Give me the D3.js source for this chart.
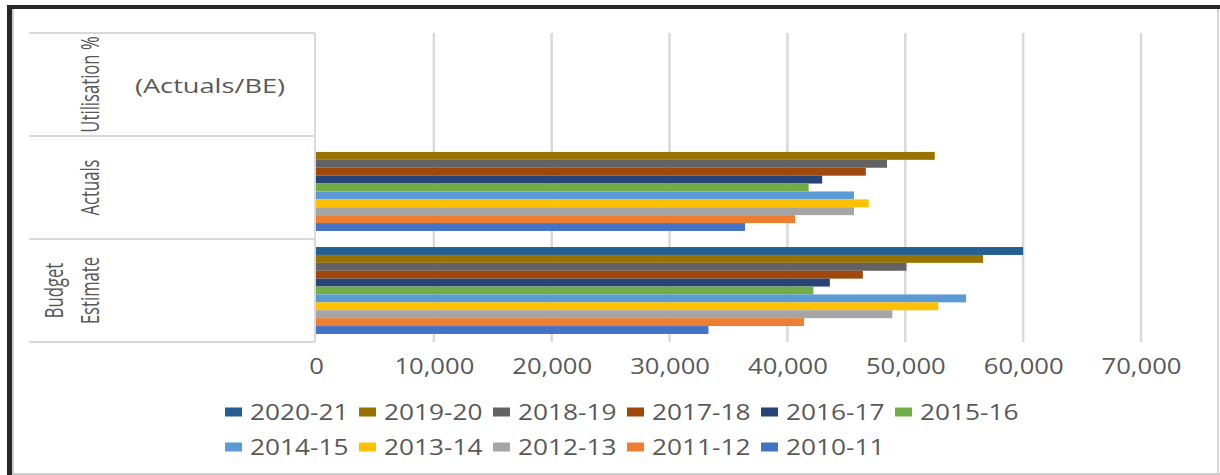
<!DOCTYPE html>
<html>
<head>
<meta charset="utf-8">
<script src="https://cdn.jsdelivr.net/npm/d3@7"></script>
<style>
  body { margin: 0; background: #fff; }
  svg { display: block; }
  text { font-family: "Open Sans", sans-serif; fill: #595959; }
</style>
</head>
<body>
<svg id="chart" width="1220" height="475"></svg>
<script>
// Categories (top to bottom) and series, newest year first
var categories = ["Utilisation %", "Actuals", "Budget Estimate"];
var years = ["2020-21", "2019-20", "2018-19", "2017-18", "2016-17", "2015-16",
             "2014-15", "2013-14", "2012-13", "2011-12", "2010-11"];
var colors = ["#255E91", "#997300", "#636363", "#9E480E", "#264478", "#70AD47",
              "#5B9BD5", "#FFC000", "#A5A5A5", "#ED7D31", "#4472C4"];

// Values (null = no bar)
var budgetEstimate = [60000, 56600, 50100, 46400, 43600, 42200, 55150, 52800, 48900, 41400, 33300];
var actuals = [null, 52500, 48450, 46650, 42950, 41800, 45650, 46900, 45650, 40650, 36400];
var utilisation = [null, null, null, null, null, null, null, null, null, null, null];
var xTicks = [0, 10000, 20000, 30000, 40000, 50000, 60000, 70000];

var seriesByCategory = {
  "Utilisation %": utilisation,
  "Actuals": actuals,
  "Budget Estimate": budgetEstimate
};

var svg = d3.select("#chart");
var sx = 1.22; // the picture is stretched sideways, so is the text

// Frame round the whole chart
svg.append("line").attr("x1", 7).attr("x2", 1220).attr("y1", 7).attr("y2", 7)
  .attr("stroke", "#262626").attr("stroke-width", 4);
svg.append("line").attr("x1", 9.5).attr("x2", 9.5).attr("y1", 5).attr("y2", 475)
  .attr("stroke", "#262626").attr("stroke-width", 5);
svg.append("line").attr("x1", 13).attr("x2", 13).attr("y1", 9).attr("y2", 475)
  .attr("stroke", "#cfcfcf").attr("stroke-width", 2);
svg.append("line").attr("x1", 1218).attr("x2", 1218).attr("y1", 9).attr("y2", 475)
  .attr("stroke", "#d6d6d6").attr("stroke-width", 2);
svg.append("line").attr("x1", 12).attr("x2", 1220).attr("y1", 474).attr("y2", 474)
  .attr("stroke", "#cfcfcf").attr("stroke-width", 2);

// Scales
var x = d3.scaleLinear().domain([0, 70000]).range([316, 1141]);
var y = d3.scaleBand().domain(categories).range([33, 342]).padding(0);
var bw = y.bandwidth();
var inner = d3.scaleBand().domain(years).range([bw * 0.078, bw * 0.922]).padding(0);

// Gridlines
svg.append("g").selectAll("line")
  .data(xTicks.slice(1))
  .enter().append("line")
  .attr("x1", function(d) { return x(d); })
  .attr("x2", function(d) { return x(d); })
  .attr("y1", 33).attr("y2", 342)
  .attr("stroke", "#d9d9d9").attr("stroke-width", 2.5);

// Category table lines on the left
var bounds = categories.map(function(c) { return y(c); }).concat([y.range()[1]]);
svg.append("g").selectAll("line")
  .data(bounds)
  .enter().append("line")
  .attr("x1", 29).attr("x2", x(0) - 1)
  .attr("y1", function(d) { return d; })
  .attr("y2", function(d) { return d; })
  .attr("stroke", "#d9d9d9").attr("stroke-width", 2);
svg.append("line")
  .attr("x1", x(0) - 1).attr("x2", x(0) - 1).attr("y1", 33).attr("y2", 342)
  .attr("stroke", "#d9d9d9").attr("stroke-width", 2);

// Bars
var groups = svg.append("g").selectAll("g")
  .data(categories)
  .enter().append("g")
  .attr("transform", function(c) { return "translate(0," + y(c) + ")"; });

groups.selectAll("rect")
  .data(function(c) {
    return years.map(function(yr, i) {
      return { year: yr, value: seriesByCategory[c][i], color: colors[i] };
    }).filter(function(d) { return d.value != null; });
  })
  .enter().append("rect")
  .attr("x", x(0))
  .attr("y", function(d) { return inner(d.year); })
  .attr("width", function(d) { return x(d.value) - x(0); })
  .attr("height", inner.bandwidth())
  .attr("fill", function(d) { return d.color; });

// Category labels (rotated)
var catLines = {
  "Utilisation %": ["Utilisation %"],
  "Actuals": ["Actuals"],
  "Budget Estimate": ["Budget", "Estimate"]
};
categories.forEach(function(c) {
  var lines = catLines[c];
  var cy = y(c) + bw / 2;
  lines.forEach(function(t, i) {
    var cx = 89 - (lines.length - 1 - i) * 36;
    svg.append("text")
      .attr("transform", "translate(" + cx + "," + cy + ") rotate(-90) scale(0.98,1.5)")
      .attr("text-anchor", "middle")
      .attr("dominant-baseline", "central")
      .style("font-size", "17px")
      .text(t);
  });
});

// Note in the top band
svg.append("text")
  .attr("transform", "translate(210,85) scale(1.36,1)")
  .attr("text-anchor", "middle")
  .attr("dominant-baseline", "central")
  .style("font-size", "20px")
  .text("(Actuals/BE)");

// X axis
var xAxis = svg.append("g")
  .attr("transform", "translate(0,342)")
  .call(d3.axisBottom(x).tickValues(xTicks).tickSize(0).tickPadding(17)
    .tickFormat(d3.format(",")));
xAxis.select(".domain").remove();
xAxis.selectAll("text")
  .attr("fill", "#595959")
  .style("font-size", "21px")
  .style("font-family", "\"Open Sans\", sans-serif")
  .attr("transform", "scale(" + sx + ",1)");

// Legend: two rows
var legend = svg.append("g");
var perRow = 6;
var item = legend.selectAll("g")
  .data(years)
  .enter().append("g")
  .attr("transform", function(d, i) {
    var col = i % perRow, row = Math.floor(i / perRow);
    return "translate(" + (225 + col * 134) + "," + (412 + row * 35) + ")";
  });
item.append("rect")
  .attr("x", 0).attr("y", -4.5)
  .attr("width", 17).attr("height", 9)
  .attr("fill", function(d, i) { return colors[i]; });
item.append("text")
  .attr("transform", "translate(25,0) scale(1.25,1)")
  .attr("dominant-baseline", "central")
  .style("font-size", "21px")
  .text(function(d) { return d; });
</script>
</body>
</html>
